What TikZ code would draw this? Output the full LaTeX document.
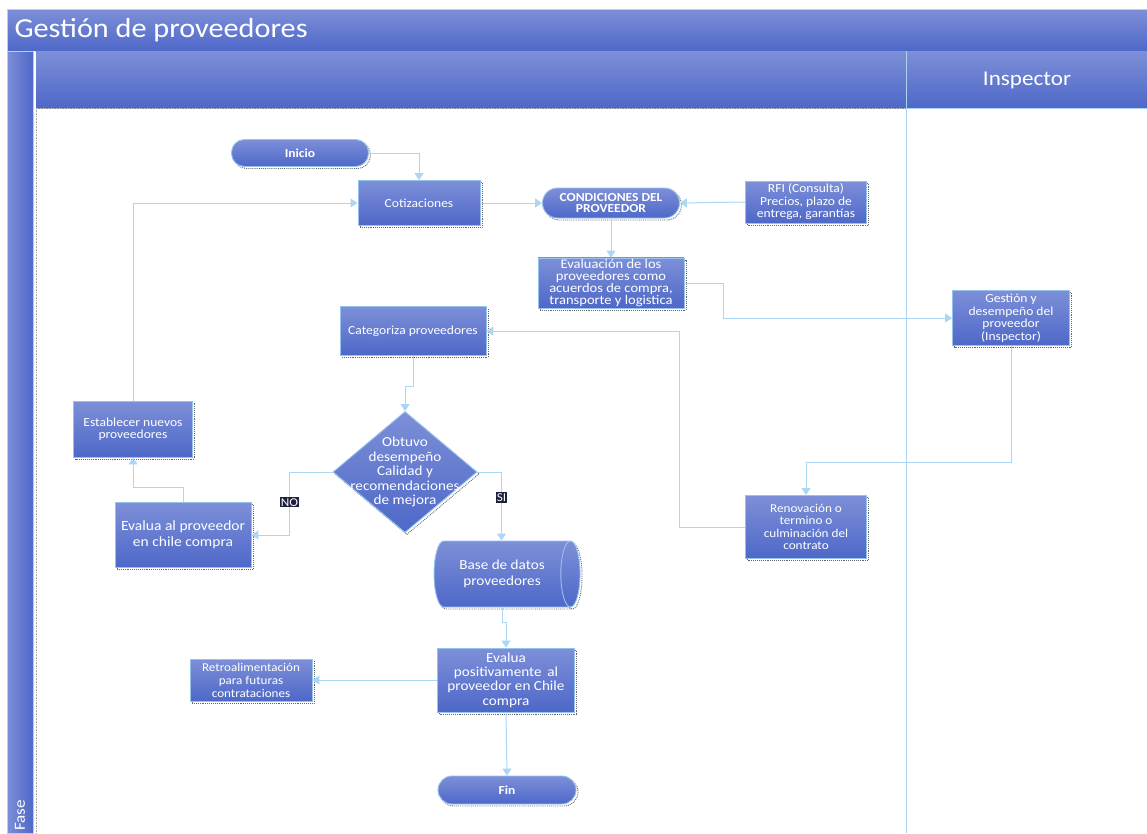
\documentclass[tikz,border=0pt]{standalone}
\usepackage{fontspec}
\setmainfont{Carlito}[FakeStretch=1.1]
\usetikzlibrary{shapes.geometric,shapes.misc,shadows,arrows.meta,calc}
\definecolor{ctop}{RGB}{125,143,216}
\definecolor{cbot}{RGB}{78,104,200}
\definecolor{cedge}{RGB}{150,195,238}
\definecolor{carrow}{RGB}{172,214,244}
\definecolor{lane}{RGB}{172,212,242}
\definecolor{lblbg}{RGB}{30,33,62}
\tikzset{
  fillgrad/.style={top color=ctop,bottom color=cbot},
  shad/.style={drop shadow={shadow xshift=2pt,shadow yshift=-2pt,fill=none,draw=black!60,densely dotted,opacity=1}},
  proc/.style={rectangle,draw=cedge,line width=0.9pt,fillgrad,shad,text=white,align=center,inner sep=1pt,font=\fontsize{12.3}{12.5}\selectfont},
  term/.style={rectangle,rounded corners=13pt,draw=cedge,line width=0.9pt,fillgrad,shad,text=white,align=center,inner sep=1pt,font=\bfseries\fontsize{12.3}{12.5}\selectfont},
  conn/.style={draw=carrow,line width=1pt,-{Triangle[width=9pt,length=7pt]}},
  lbl/.style={fill=lblbg,text=white,inner sep=1.2pt,font=\fontsize{12}{12}\selectfont},
}
\begin{document}
\begin{tikzpicture}[x=1pt,y=-1pt]
\useasboundingbox (0,0) rectangle (1147,833);
\fill[white] (0,0) rectangle (1147,833);
% title band
\draw[lane,line width=0.8pt,fillgrad] (7,9) rectangle (1147,51);
\node[anchor=west,text=white,font=\fontsize{27.5}{27.5}\selectfont] (title) at (11,30) {Gestión de proveedores};
% fase strip
\draw[lane,line width=0.6pt,left color=ctop,right color=cbot] (7,51) rectangle (33,833);
\node[rotate=90,anchor=west,text=white,font=\fontsize{15.5}{15.5}\selectfont,inner sep=1pt] (fase) at (20,832) {Fase};
% header band
\fill[fillgrad] (36,51) rectangle (1147,108);
\draw[lane,line width=0.8pt] (36,108) -- (1147,108);
\draw[black!45,densely dotted,line width=0.6pt] (36,108) -- (906,108);
\draw[black!35,densely dotted,line width=0.6pt] (36,108) -- (36,833);
\draw[white,line width=1.2pt] (34.5,51) -- (34.5,108);
\draw[lane,line width=0.8pt] (906,51) -- (906,833);
\node[text=white,font=\fontsize{21}{21}\selectfont] (insp) at (1027,80) {Inspector};

% nodes
\node[term,minimum width=137,minimum height=27] (inicio) at (300,153) {Inicio};
\node[proc,minimum width=122,minimum height=45] (cotiz) at (419,203) {Cotizaciones};
\node[term,minimum width=137,minimum height=30,rounded corners=15pt,font=\bfseries\fontsize{12.3}{11.7}\selectfont] (cond) at (611,203) {CONDICIONES DEL\\PROVEEDOR};
\node[proc,minimum width=121,minimum height=42] (rfi) at (806,202) {RFI (Consulta)\\Precios, plazo de\\entrega, garantías};
\node[proc,minimum width=146,minimum height=48,font=\fontsize{13.2}{12.2}\selectfont] (evalp) at (611,283) {Evaluación de los\\proveedores como\\acuerdos de compra,\\transporte y logistica};
\node[proc,minimum width=117,minimum height=55] (gest) at (1011,318) {Gestión y\\desempeño del\\proveedor\\(Inspector)};
\node[proc,minimum width=146,minimum height=49] (categ) at (413,331) {Categoriza proveedores};
\node[proc,minimum width=119,minimum height=56] (estab) at (133,429) {Establecer nuevos\\proveedores};
\node[diamond,draw=cedge,line width=0.9pt,fillgrad,shad,minimum width=144,minimum height=121,inner sep=0pt,
  label={[text=white,align=center,font=\fontsize{13.8}{14.4}\selectfont]center:Obtuvo\\desempeño\\Calidad y\\recomendaciones\\de mejora}] (dia) at (405,472) {};
\node[proc,minimum width=136,minimum height=65,font=\fontsize{14.1}{15.7}\selectfont] (evcc) at (183,535) {Evalua al proveedor\\en chile compra};
\node[cylinder,draw=cedge,line width=0.9pt,fillgrad,shad,shape aspect=0.7,minimum height=146,minimum width=66,inner sep=0pt,
  text=white,align=center,font=\fontsize{13.8}{15.7}\selectfont] (db) at (502,574) {Base de datos\\proveedores};
\node[proc,minimum width=121,minimum height=63,font=\fontsize{12}{12.4}\selectfont] (renov) at (806,527) {Renovación o\\termino o\\culminación del\\contrato};
\node[proc,minimum width=137,minimum height=64,font=\fontsize{13.8}{14.4}\selectfont] (evpos) at (506,680) {Evalua\\positivamente\, al\\proveedor en Chile\\compra};
\node[proc,minimum width=122,minimum height=42,font=\fontsize{11.9}{13}\selectfont] (retro) at (251,680) {Retroalimentación\\para futuras\\contrataciones};
\node[term,minimum width=138,minimum height=28,rounded corners=14pt] (fin) at (507,790) {Fin};

% connectors
\draw[conn] (inicio.east) -| (cotiz.north);
\draw[conn] (cotiz.east) -- (cond.west);
\draw[conn] (rfi.west) -- (cond.east);
\draw[conn] (cond.south) -- (evalp.north);
\draw[conn] (evalp.east) -- ++(39,0) |- (gest.west);
\draw[conn] (gest.south) -- ++(0,117) -| (renov.north);
\draw[conn] (renov.west) -- ++(-66,0) |- (categ.east);
\draw[conn] (categ.south) -- ++(0,31) -| (dia.north);
\draw[conn] (dia.west) -- ++(-43,0) |- node[lbl,pos=0.24] (no) {NO} (evcc.east);
\draw[conn] (dia.east) -- ++(24,0) coordinate (sic) -- (sic |- db.north) node[lbl,pos=0.37] (si) {SI};
\draw[conn] (evcc.north) -- ++(0,-15) -| (estab.south);
\draw[conn] (estab.north) |- (cotiz.west);
\draw[conn] (db.south) -- ++(0,15) -| (evpos.north);
\draw[conn] (evpos.west) -- (retro.east);
\draw[conn] (evpos.south) -- (fin.north);
\end{tikzpicture}
\end{document}
